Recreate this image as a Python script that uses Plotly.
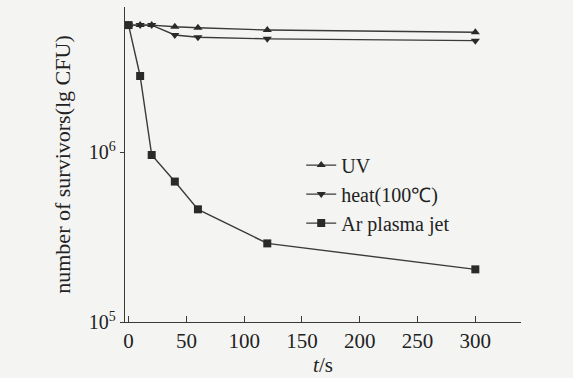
import plotly.graph_objects as go

# Data
t_uv = [0, 10, 20, 40, 60, 120, 300]
uv = [5.58e6, 5.58e6, 5.58e6, 5.46e6, 5.38e6, 5.22e6, 5.06e6]
t_heat = [0, 10, 20, 40, 60, 120, 300]
heat = [5.58e6, 5.58e6, 5.58e6, 4.88e6, 4.73e6, 4.63e6, 4.52e6]
t_ar = [0, 10, 20, 40, 60, 120, 300]
ar = [5.58e6, 2.80e6, 9.6e5, 6.7e5, 4.6e5, 2.9e5, 2.04e5]

names = ["UV", "heat(100℃)", "Ar plasma jet"]
x_ticks = [0, 50, 100, 150, 200, 250, 300]
y_tickvals = [1e5, 1e6]
y_ticktext = ["10<sup>5</sup>", "10<sup>6</sup>"]

line_col = "#3a3a3a"
font_fam = "Liberation Serif, Times New Roman, serif"

fig = go.Figure()
for x, y, nm, sym, sz in [
    (t_uv, uv, names[0], "triangle-up", 8),
    (t_heat, heat, names[1], "triangle-down", 8),
    (t_ar, ar, names[2], "square", 8),
]:
    fig.add_trace(go.Scatter(
        x=x, y=y, name=nm, mode="lines+markers",
        line=dict(color=line_col, width=1.4),
        marker=dict(symbol=sym, size=sz, color="#2a2a2a"),
    ))

fig.update_layout(
    width=573, height=378,
    margin=dict(l=125, r=52, t=7, b=56),
    paper_bgcolor="#f4f4f2", plot_bgcolor="#f4f4f2",
    font=dict(family=font_fam, size=21, color="#222222"),
    showlegend=True,
    legend=dict(x=0.445, y=0.56, xanchor="left", yanchor="top",
                bgcolor="rgba(0,0,0,0)", font=dict(size=20),
                tracegroupgap=0, itemwidth=30),
    xaxis=dict(range=[-3.1, 339.5], tickvals=x_ticks, ticks="inside",
               ticklen=6, tickcolor=line_col, showline=True, linecolor=line_col,
               linewidth=1.4, showgrid=False, zeroline=False,
               tickfont=dict(size=21),
               title=dict(text="<i>t</i>/s", standoff=0, font=dict(size=21))),
    yaxis=dict(type="log", range=[5, 6.853], tickvals=y_tickvals,
               ticktext=y_ticktext, ticks="outside", ticklen=4,
               tickcolor=line_col, showline=True, linecolor=line_col,
               linewidth=1.4, showgrid=False, zeroline=False,
               tickfont=dict(size=20),
               title=dict(text="number of survivors(lg CFU)", standoff=12,
                          font=dict(size=22))),
)

fig.write_html("out.html")
